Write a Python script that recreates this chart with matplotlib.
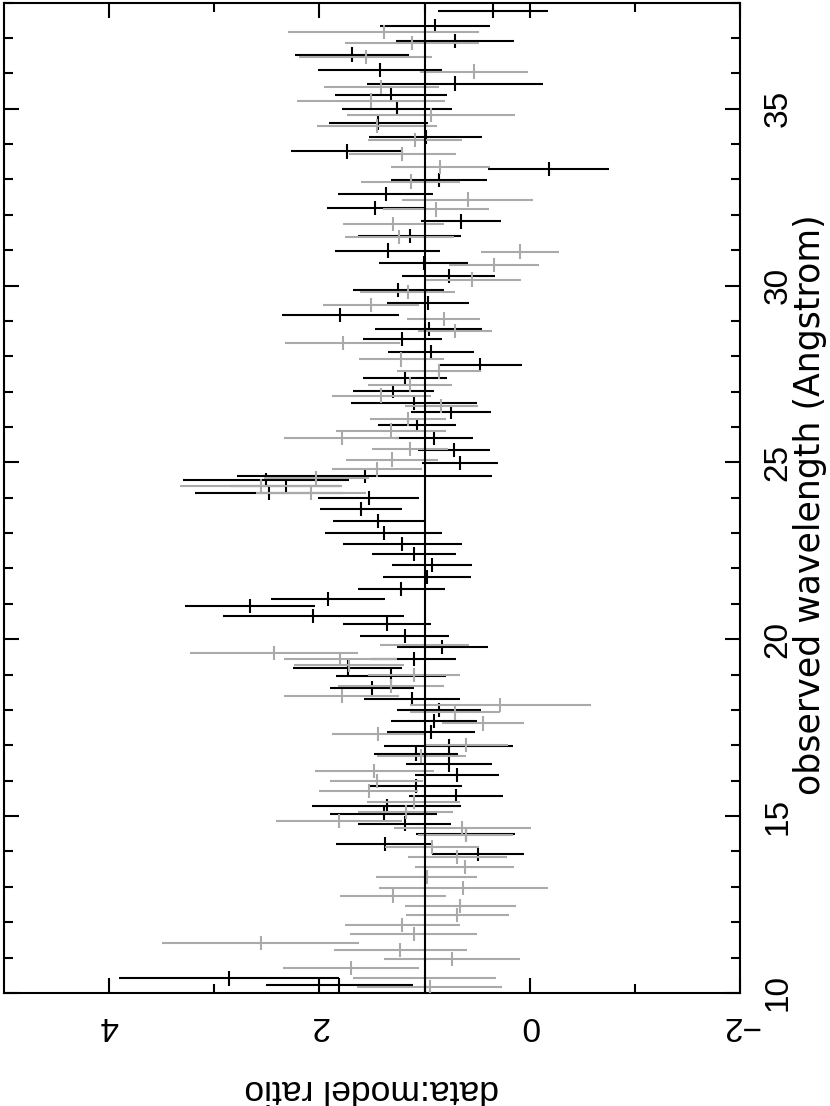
import matplotlib.pyplot as plt
import numpy as np

plt.rcParams['font.family'] = ['Liberation Sans', 'DejaVu Sans']

# primo set (nero): lunghezza d'onda [A], rapporto dati/modello, errore
lamNero = [10.23, 10.41, 13.92, 14.21, 14.49, 14.79, 15.06, 15.28, 15.56, 15.86,
           16.16, 16.46, 16.75, 16.98, 17.38, 17.68, 17.99, 18.31, 18.62, 18.95,
           19.20, 19.45, 19.78, 20.10, 20.44, 20.65, 20.93, 21.14, 21.42, 21.76,
           22.09, 22.42, 22.70, 23.00, 23.34, 23.69, 23.99, 24.13, 24.32, 24.51,
           24.61, 24.98, 25.34, 25.69, 26.05, 26.42, 26.69, 27.01, 27.38, 27.76,
           28.12, 28.49, 28.78, 29.17, 29.50, 29.88, 30.26, 30.64, 30.99, 31.41,
           31.81, 32.19, 32.59, 32.99, 33.30, 33.79, 34.19, 34.60, 34.99, 35.40,
           35.71, 36.09, 36.53, 36.92, 37.34, 37.77]
ratNero = [1.81, 2.86, 0.49, 1.38, 0.61, 1.19, 1.39, 1.36, 0.70, 1.08,
           0.69, 0.77, 1.08, 0.77, 0.94, 0.91, 0.86, 1.12, 1.50, 1.32,
           1.73, 1.105, 0.83, 1.19, 1.36, 2.06, 2.66, 1.92, 1.22, 0.98,
           0.93, 1.10, 1.21, 1.39, 1.44, 1.60, 1.53, 2.48, 2.32, 2.51,
           1.57, 0.66, 0.72, 0.91, 1.07, 0.75, 1.10, 1.30, 1.19, 0.47,
           0.94, 1.21, 0.96, 1.80, 0.97, 1.25, 0.77, 1.01, 1.35, 1.14,
           0.65, 1.47, 1.37, 0.86, -0.18, 1.74, 0.99, 1.44, 1.26, 1.32,
           0.71, 1.42, 1.69, 0.71, 0.90, 0.35]
errNero = [0.70, 1.05, 0.44, 0.46, 0.47, 0.44, 0.51, 0.71, 0.45, 0.44,
           0.40, 0.41, 0.40, 0.615, 0.42, 0.41, 0.40, 0.455, 0.40, 0.52,
           0.52, 0.40, 0.43, 0.42, 0.42, 0.86, 0.615, 0.54, 0.41, 0.42,
           0.38, 0.40, 0.57, 0.56, 0.43, 0.39, 0.48, 0.70, 0.52, 0.79,
           1.21, 0.36, 0.34, 0.37, 0.37, 0.38, 0.60, 0.385, 0.40, 0.40,
           0.41, 0.38, 0.51, 0.56, 0.39, 0.435, 0.44, 0.42, 0.50, 0.49,
           0.38, 0.46, 0.45, 0.455, 0.575, 0.535, 0.535, 0.47, 0.525, 0.53,
           0.84, 0.59, 0.545, 0.56, 0.525, 0.52]

# secondo set (grigio)
lamGrigio = [10.16, 10.43, 10.70, 10.95, 11.21, 11.42, 11.66, 11.92, 12.20, 12.47,
             12.74, 12.96, 13.29, 13.57, 13.85, 14.13, 14.46, 14.65, 14.86, 15.12,
             15.40, 15.71, 16.00, 16.27, 16.69, 17.01, 17.31, 17.62, 17.93, 18.14,
             18.40, 18.67, 18.98, 19.27, 19.45, 19.61, 19.83, 24.13, 24.32, 24.55,
             24.80, 25.08, 25.39, 25.69, 25.90, 26.23, 26.59, 26.89, 27.20, 27.57,
             27.91, 28.37, 28.71, 29.06, 29.45, 29.81, 30.17, 30.58, 30.96, 31.36,
             31.74, 32.15, 32.43, 32.94, 33.34, 33.72, 34.12, 34.52, 34.82, 35.23,
             35.62, 36.05, 36.45, 36.86, 37.16]
ratGrigio = [0.95, 1.00, 1.70, 0.74, 1.23, 2.56, 1.105, 1.21, 0.69, 0.66,
             1.30, 0.63, 0.98, 0.62, 0.69, 0.93, 0.61, 0.64, 1.81, 1.18,
             1.105, 1.53, 1.455, 1.48, 1.03, 0.61, 1.44, 0.44, 0.71, 0.28,
             1.79, 1.32, 1.10, 1.72, 1.80, 2.43, 1.00, 2.08, 2.56, 2.03,
             1.455, 1.31, 1.14, 1.79, 1.32, 1.16, 0.84, 1.41, 1.14, 0.86,
             1.22, 1.78, 0.71, 0.82, 1.51, 1.16, 0.545, 0.34, 0.09, 1.24,
             1.30, 0.89, 0.59, 1.13, 0.85, 1.21, 1.09, 1.45, 0.94, 1.51,
             1.41, 0.53, 1.56, 1.12, 1.39]
errGrigio = [0.69, 0.68, 0.65, 0.65, 0.63, 0.94, 0.60, 0.55, 0.49, 0.53,
             0.50, 0.80, 0.48, 0.475, 0.47, 0.45, 0.45, 0.65, 0.60, 0.45,
             0.44, 0.47, 0.44, 0.565, 0.42, 0.40, 0.44, 0.39, 0.43, 0.86,
             0.545, 0.50, 0.44, 0.52, 0.54, 0.80, 0.42, 0.52, 0.77, 0.50,
             0.43, 0.435, 0.36, 0.55, 0.525, 0.36, 0.35, 0.475, 0.40, 0.40,
             0.40, 0.545, 0.35, 0.35, 0.46, 0.45, 0.46, 0.43, 0.37, 0.52,
             0.48, 0.505, 0.62, 0.47, 0.47, 0.51, 0.45, 0.57, 0.80, 0.70,
             0.545, 0.51, 0.63, 0.64, 0.91]

semiBin = 0.2  # meta' larghezza del bin in lunghezza d'onda

fig = plt.figure(figsize=(8.3, 11.06), dpi=100)
ax = fig.add_axes([0.0048, 0.1022, 0.8868, 0.8955])

# grafico ruotato: rapporto in orizzontale, lunghezza d'onda in verticale
ax.errorbar(ratNero, lamNero, xerr=errNero, yerr=semiBin, fmt='none',
            ecolor='black', elinewidth=1.5, zorder=2)
ax.errorbar(ratGrigio, lamGrigio, xerr=errGrigio, yerr=semiBin, fmt='none',
            ecolor='#aaaaaa', elinewidth=1.5, zorder=3)
ax.axvline(1, color='black', lw=1.5, zorder=4)

ax.set_xlim(5, -2)
ax.set_ylim(10, 38)
ax.set_xticks([4, 2, 0, -2])
ax.set_xticks([3, 1, -1], minor=True)
ax.set_yticks(np.arange(10, 40, 5))
ax.set_yticks(np.arange(10, 39, 1), minor=True)

ax.tick_params(which='both', direction='in', top=True, bottom=True,
               left=True, right=True, width=1.5)
ax.tick_params(which='major', length=11)
ax.tick_params(which='minor', length=6.5)
ax.tick_params(axis='x', labelrotation=180, labelsize=24, pad=12)
ax.tick_params(axis='y', labelleft=False, labelright=True, labelrotation=90,
               labelsize=24, pad=16)
for lab in ax.get_yticklabels():
    lab.set_verticalalignment('center')
for sp in ax.spines.values():
    sp.set_linewidth(1.5)

fig.text(810 / 830, 1 - 505 / 1106, 'observed wavelength (Angstrom)',
         rotation=90, ha='center', va='center', fontsize=25,
         family='DejaVu Sans')
fig.text(372 / 830, 1 - 1090 / 1106, 'data:model ratio',
         rotation=180, ha='center', va='center', fontsize=25.5)

fig.savefig('out.png', dpi=100)
